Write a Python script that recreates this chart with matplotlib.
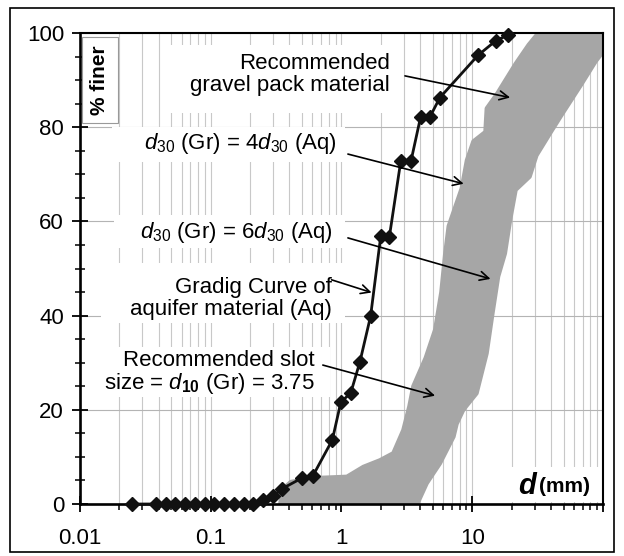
import numpy as np
import matplotlib
matplotlib.use("Agg")
import matplotlib.pyplot as plt
from matplotlib.patches import Rectangle
from matplotlib.ticker import FixedLocator, FixedFormatter, LogLocator, NullFormatter, MultipleLocator

plt.rcParams['font.family'] = ['Liberation Sans', 'DejaVu Sans']
plt.rcParams['mathtext.fontset'] = 'custom'
plt.rcParams['mathtext.rm'] = 'Liberation Sans'
plt.rcParams['mathtext.it'] = 'Liberation Sans:italic'
plt.rcParams['mathtext.bf'] = 'Liberation Sans:bold'

# grading curve of aquifer material (Aq)
aq_d = [0.0248, 0.0381, 0.0452, 0.0530, 0.0635, 0.0758, 0.0904, 0.106, 0.126,
        0.151, 0.180, 0.212, 0.250, 0.299, 0.349, 0.497, 0.602, 0.851, 0.99,
        1.175, 1.384, 1.67, 1.995, 2.32, 2.84, 3.40, 4.03, 4.75, 5.66, 11.1,
        15.2, 18.9]
aq_pct = [0, 0, 0, 0, 0, 0, 0, 0, 0, 0, 0, 0, 0.85, 1.6, 3.2, 5.5, 5.9, 13.6,
          21.7, 23.5, 30.2, 39.9, 56.8, 56.6, 72.8, 72.8, 82.2, 82.2, 86.3,
          95.3, 98.4, 99.6]

# recommended gravel pack band (left = 4 d30, right = 6 d30)
band_left_d = [0.34, 0.35, 0.41, 0.61, 1.10, 1.47, 1.97, 2.49, 2.97, 3.3, 3.54,
               4.4, 5.2, 5.8, 6.2, 6.6, 7.4, 8.3, 9.1, 10.2, 12.6, 12.9, 15.4,
               21.5, 27, 32]
band_left_pct = [0, 3, 4.7, 5.5, 5.8, 7.9, 9.3, 10.8, 15.7, 20.7, 25, 31, 37,
                 45, 53, 59, 63, 67, 73, 77, 79, 84, 87, 93.5, 97.5, 100]
band_right_d = [100, 100, 88, 68, 48, 40, 31, 27.5, 21.5, 19.5, 17.8, 15.8,
                14.3, 12.9, 10.8, 8.55, 7.6, 7.2, 5.66, 4.49, 3.8]
band_right_pct = [100, 96, 94, 89, 82.5, 79, 74, 69.5, 66.7, 60.3, 53.2,
                  48.3, 40.5, 32, 23.5, 20, 17, 14.3, 8.6, 4.4, 0]

x_ticks = [0.01, 0.1, 1, 10, 100]
x_tick_labels = ['0.01', '0.1', '1', '10', '']

fig = plt.figure(figsize=(6.24, 5.56), dpi=100)
ax = fig.add_axes([0.1282, 0.0935, 0.8381, 0.8471])

ax.fill(band_left_d + band_right_d, band_left_pct + band_right_pct,
        fc='#a6a6a6', ec='#a6a6a6', lw=3, joinstyle='round', zorder=2)
ax.plot(aq_d, aq_pct, color='#111111', lw=2.0, marker='D', ms=7.2,
        zorder=4, clip_on=False)

ax.set_xscale('log')
ax.set_xlim(0.01, 100)
ax.set_ylim(0, 100)
ax.xaxis.set_major_locator(FixedLocator(x_ticks))
ax.xaxis.set_major_formatter(FixedFormatter(x_tick_labels))
ax.xaxis.set_minor_locator(LogLocator(base=10, subs=np.arange(2, 10)))
ax.xaxis.set_minor_formatter(NullFormatter())
ax.yaxis.set_major_locator(MultipleLocator(20))
ax.yaxis.set_minor_locator(MultipleLocator(5))

ax.set_axisbelow(True)
ax.grid(which='both', axis='x', color='#c8c8c8', lw=0.8)
ax.grid(which='major', axis='y', color='#b4b4b4', lw=0.8)

ax.tick_params(axis='both', which='major', direction='inout', length=11,
               width=1.3, labelsize=16, color='black')
ax.tick_params(axis='y', which='minor', direction='inout', length=7, width=1.1)
ax.tick_params(axis='x', which='minor', direction='out', length=4, width=1.1)
ax.tick_params(axis='y', pad=6)
ax.tick_params(axis='x', pad=12)
for side in ['left', 'bottom']:
    ax.spines[side].set_linewidth(1.9)
for side in ['top', 'right']:
    ax.spines[side].set_linewidth(1.5)

# white label boxes (axes fraction: x0, y0, width, height) hiding the grid
label_boxes = [(0.166, 0.830, 0.446, 0.145),
               (0.061, 0.726, 0.446, 0.074),
               (0.065, 0.544, 0.442, 0.070),
               (0.040, 0.384, 0.467, 0.128),
               (0.036, 0.227, 0.442, 0.106),
               (0.815, 0.004, 0.180, 0.075)]
for x0, y0, w, h in label_boxes:
    ax.add_patch(Rectangle((x0, y0), w, h, transform=ax.transAxes,
                           fc='white', ec='none', zorder=1.5))

fs = 16
arrow = dict(arrowstyle='->', color='black', lw=1.2, mutation_scale=16,
             shrinkA=0, shrinkB=0)

ax.text(2.35, 91.2, 'Recommended\ngravel pack material', ha='right',
        va='center', multialignment='right', fontsize=fs,
        linespacing=1.05, zorder=3)
ax.annotate('', xy=(19.5, 86.3), xytext=(3.06, 90.9), arrowprops=arrow,
            zorder=5)

ax.text(0.925, 76.6, r'$d_{30}$ (Gr) = 4$d_{30}$ (Aq)', ha='right',
        va='center', fontsize=fs, zorder=3)
ax.annotate('', xy=(8.6, 68.0), xytext=(1.12, 74.3), arrowprops=arrow,
            zorder=5)

ax.text(0.861, 57.7, r'$d_{30}$ (Gr) = 6$d_{30}$ (Aq)', ha='right',
        va='center', fontsize=fs, zorder=3)
ax.annotate('', xy=(13.8, 47.8), xytext=(1.12, 56.5), arrowprops=arrow,
            zorder=5)

ax.text(0.85, 43.6, 'Gradig Curve of\naquifer material (Aq)', ha='right',
        va='center', multialignment='right', fontsize=fs,
        linespacing=1.05, zorder=3)
ax.annotate('', xy=(1.70, 44.9), xytext=(0.84, 47.6), arrowprops=arrow,
            zorder=5)

ax.text(0.627, 27.9, 'Recommended slot\nsize = $d_{\\mathbf{10}}$ (Gr) = 3.75',
        ha='right', va='center', multialignment='right', fontsize=fs,
        linespacing=1.0, zorder=3)
ax.annotate('', xy=(5.2, 23.0), xytext=(0.72, 29.5), arrowprops=arrow,
            zorder=5)

ax.text(0.038, 0.90, '% finer', rotation=90, transform=ax.transAxes,
        ha='center', va='center', fontsize=15, weight='bold', zorder=6,
        bbox=dict(facecolor='white', edgecolor='#999999', lw=0.8, pad=6))

ax.text(0.975, 0.038, '(mm)', transform=ax.transAxes, ha='right',
        va='center', fontsize=15, weight='bold', zorder=6)
ax.text(0.872, 0.038, 'd', transform=ax.transAxes, ha='right', va='center',
        fontsize=21, weight='bold', style='italic', zorder=6)

fig.patches.append(Rectangle((10 / 624, 1 - 552 / 556), 604 / 624, 544 / 556,
                             transform=fig.transFigure, fill=False,
                             ec='black', lw=1.2))

fig.savefig('out.png', dpi=100)
